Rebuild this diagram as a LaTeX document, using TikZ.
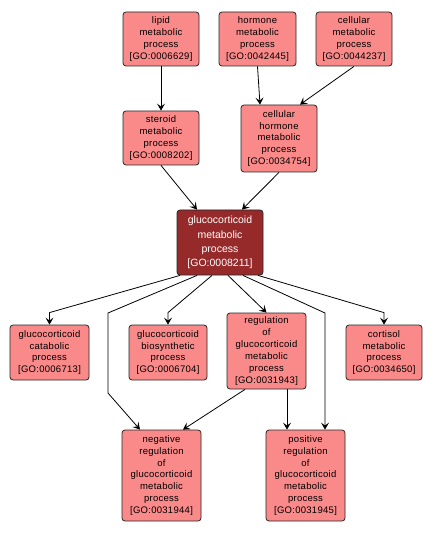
\documentclass[tikz,border=0pt]{standalone}
\usepackage{fontspec}
\setmainfont{Liberation Sans}
\newfontfamily\gofont[LetterSpace=3]{Liberation Sans}
\usetikzlibrary{arrows.meta}
\definecolor{termpink}{RGB}{250,137,137}
\definecolor{termdark}{RGB}{150,42,42}

\begin{document}
\begin{tikzpicture}[x=1pt, y=-1pt,
   every node/.style={draw=black!85, rounded corners=3pt, fill=termpink, align=center,
                      inner sep=0pt, line width=0.8pt, font=\gofont\fontsize{9.5}{11.9}\selectfont},
   term/.style 2 args={minimum width=#1pt, minimum height=#2pt},
   edge/.style={-{Stealth[length=7pt,width=8pt,inset=3pt]}, line width=0.8pt}]

\useasboundingbox (0,0) rectangle (433,534);

\node[term={76}{54}] (lipid) at (161,39) {lipid\\metabolic\\process\\{}[GO:0006629]};
\node[term={77}{54}] (hormone) at (257.5,39) {hormone\\metabolic\\process\\{}[GO:0042445]};
\node[term={76}{54}] (cellmet) at (354,39) {cellular\\metabolic\\process\\{}[GO:0044237]};
\node[term={76}{54}] (steroid) at (161,138) {steroid\\metabolic\\process\\{}[GO:0008202]};
\node[term={76}{67}] (chorm) at (279,138.5) {cellular\\hormone\\metabolic\\process\\{}[GO:0034754]};
\node[term={86}{65}, fill=termdark, text=white, font=\fontsize{10.5}{14.2}\selectfont] (gc) at (220,242.5)
    {glucocorticoid\\metabolic\\process\\{}[GO:0008211]};
\node[term={79}{55}] (cat) at (49.5,352.5) {glucocorticoid\\catabolic\\process\\{}[GO:0006713]};
\node[term={78}{55}] (bio) at (168,352.5) {glucocorticoid\\biosynthetic\\process\\{}[GO:0006704]};
\node[term={79}{76}] (reg) at (266.5,351) {regulation\\of\\glucocorticoid\\metabolic\\process\\{}[GO:0031943]};
\node[term={76}{55}] (cort) at (384,352.5) {cortisol\\metabolic\\process\\{}[GO:0034650]};
\node[term={79}{91}] (neg) at (161.5,475.5) {negative\\regulation\\of\\glucocorticoid\\metabolic\\process\\{}[GO:0031944]};
\node[term={79}{91}] (pos) at (305.5,475.5) {positive\\regulation\\of\\glucocorticoid\\metabolic\\process\\{}[GO:0031945]};

\coordinate (b1) at (108,313);
\coordinate (b2) at (108,393);
\coordinate (b3) at (325,313);

\draw[edge] (lipid.south) -- (steroid.north);
\draw[edge] (hormone.south) -- ([xshift=-19pt]chorm.north);
\draw[edge] (cellmet.south) -- ([xshift=21pt]chorm.north);
\draw[edge] (steroid.south) -- ([xshift=-23pt]gc.north);
\draw[edge] (chorm.south) -- ([xshift=22pt]gc.north);
\draw[edge] ([xshift=-40pt]gc.south) -- ([yshift=12pt]cat.north) -- (cat.north);
\draw[edge] ([xshift=-23pt]gc.south) -- (b1) -- (b2) -- ([xshift=-21.5pt]neg.north);
\draw[edge] ([xshift=-8pt]gc.south) -- ([yshift=12pt]bio.north) -- (bio.north);
\draw[edge] ([xshift=8pt]gc.south) -- (reg.north);
\draw[edge] ([xshift=23pt]gc.south) -- (b3) -- ([xshift=19.5pt]pos.north);
\draw[edge] ([xshift=38pt]gc.south) -- ([yshift=12pt]cort.north) -- (cort.north);
\draw[edge] ([xshift=-21.5pt]reg.south) -- ([xshift=21.5pt]neg.north);
\draw[edge] ([xshift=20.5pt]reg.south) -- ([xshift=-18.5pt]pos.north);

\end{tikzpicture}
\end{document}
